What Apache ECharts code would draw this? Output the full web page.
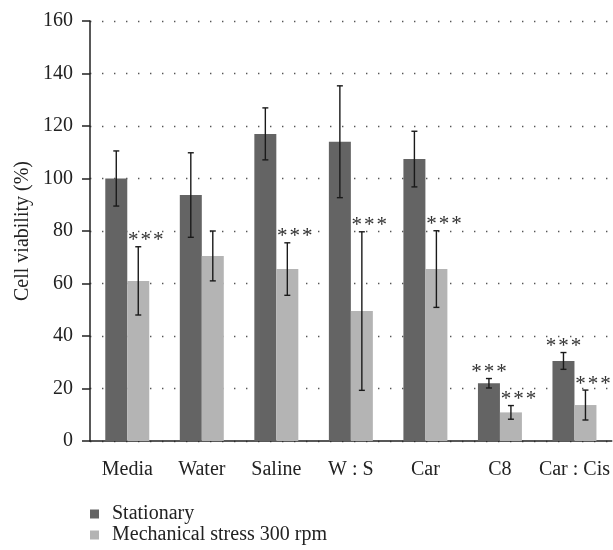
<!DOCTYPE html>
<html>
<head>
<meta charset="utf-8">
<script src="https://cdn.jsdelivr.net/npm/echarts@6/dist/echarts.min.js"></script>
<style>html,body{margin:0;padding:0;background:#fff}#c{width:613px;height:550px}</style>
</head>
<body>
<div id="c"></div>
<script>
var categories = ['Media', 'Water', 'Saline', 'W : S', 'Car', 'C8', 'Car : Cis'];
var stationary = [100, 93.7, 117, 114, 107.4, 22, 30.5];
var stationaryErr = [10.5, 16.1, 9.9, 21.3, 10.6, 1.8, 3.2];
var stationarySig = [0, 0, 0, 0, 0, 1, 1];
var mechanical = [61, 70.5, 65.5, 49.5, 65.5, 10.9, 13.7];
var mechanicalErr = [13, 9.5, 10, 30.2, 14.6, 2.6, 5.7];
var mechanicalSig = [1, 0, 1, 1, 1, 1, 1];
var yTicks = [0, 20, 40, 60, 80, 100, 120, 140, 160];
var seriesNames = ['Stationary', 'Mechanical stress 300 rpm'];

var FONT = '"Liberation Serif", "DejaVu Serif", serif';
var CAT_GAP = 0.41;

function errData(vals, errs, sig) {
  return vals.map(function (v, i) { return [i, v, errs[i], sig[i]]; });
}

function makeErrRender(side) {
  return function (params, api) {
    var idx = api.value(0), v = api.value(1), e = api.value(2), s = api.value(3);
    var catW = api.size([1, 0])[0];
    var barW = catW * (1 - CAT_GAP) / 2;
    var cx = api.coord([idx, v])[0] + side * barW / 2;
    var top = api.coord([idx, v + e])[1];
    var bot = api.coord([idx, v - e])[1];
    var cap = 3;
    var style = { stroke: '#1a1a1a', lineWidth: 1.4 };
    var children = [
      { type: 'line', shape: { x1: cx, y1: top, x2: cx, y2: bot }, style: style },
      { type: 'line', shape: { x1: cx - cap, y1: top, x2: cx + cap, y2: top }, style: style },
      { type: 'line', shape: { x1: cx - cap, y1: bot, x2: cx + cap, y2: bot }, style: style }
    ];
    if (s) {
      var mx = cx + (side > 0 ? 7.5 : 0);
      for (var k = -1; k <= 1; k++) {
        children.push({
          type: 'text',
          style: {
            text: '*', x: mx + k * 12.5, y: top - 6,
            align: 'center', verticalAlign: 'middle',
            font: '21px ' + FONT, fill: '#333'
          }
        });
      }
    }
    return { type: 'group', children: children };
  };
}

var chart = echarts.init(document.getElementById('c'));
chart.setOption({
  animation: false,
  textStyle: { fontFamily: FONT },
  grid: { left: 90, right: 1, top: 21, bottom: 109, containLabel: false },
  legend: {
    orient: 'vertical', left: 90, top: 504, padding: 0,
    itemWidth: 9, itemHeight: 9, itemGap: 1,
    icon: 'rect',
    textStyle: { fontFamily: FONT, fontSize: 20, color: '#222', lineHeight: 18.5, padding: [0, 0, 0, 8] },
    data: seriesNames
  },
  xAxis: {
    type: 'category', data: categories,
    axisLine: { lineStyle: { color: '#222', width: 1.5 } },
    axisTick: { length: 7, lineStyle: { color: '#222', width: 1.5 } },
    axisLabel: { fontFamily: FONT, fontSize: 20, color: '#222', margin: 19, interval: 0 }
  },
  yAxis: {
    type: 'value', min: 0, max: 160, interval: 20,
    name: 'Cell viability (%)', nameLocation: 'middle', nameGap: 57,
    nameMoveOverlap: false,
    nameTextStyle: { fontFamily: FONT, fontSize: 20, color: '#222' },
    axisLine: { show: true, lineStyle: { color: '#222', width: 1.5 } },
    axisTick: { show: true, length: 8, lineStyle: { color: '#222', width: 1.5 } },
    axisLabel: {
      fontFamily: FONT, fontSize: 20, color: '#222', margin: 17,
      formatter: function (v) { return yTicks.indexOf(v) >= 0 ? String(v) : ''; }
    },
    splitLine: { show: true, lineStyle: { color: '#555', width: 1.4, type: [1.4, 10.6] } }
  },
  series: [
    {
      name: seriesNames[0], type: 'bar', data: stationary,
      barGap: '0%', barCategoryGap: (CAT_GAP * 100) + '%',
      itemStyle: { color: '#646464' }
    },
    {
      name: seriesNames[1], type: 'bar', data: mechanical,
      barGap: '0%', barCategoryGap: (CAT_GAP * 100) + '%',
      itemStyle: { color: '#b4b4b4' }
    },
    {
      type: 'custom', renderItem: makeErrRender(-1),
      data: errData(stationary, stationaryErr, stationarySig), z: 5,
      encode: { x: 0, y: 1 }
    },
    {
      type: 'custom', renderItem: makeErrRender(1),
      data: errData(mechanical, mechanicalErr, mechanicalSig), z: 5,
      encode: { x: 0, y: 1 }
    }
  ]
});
</script>
</body>
</html>
